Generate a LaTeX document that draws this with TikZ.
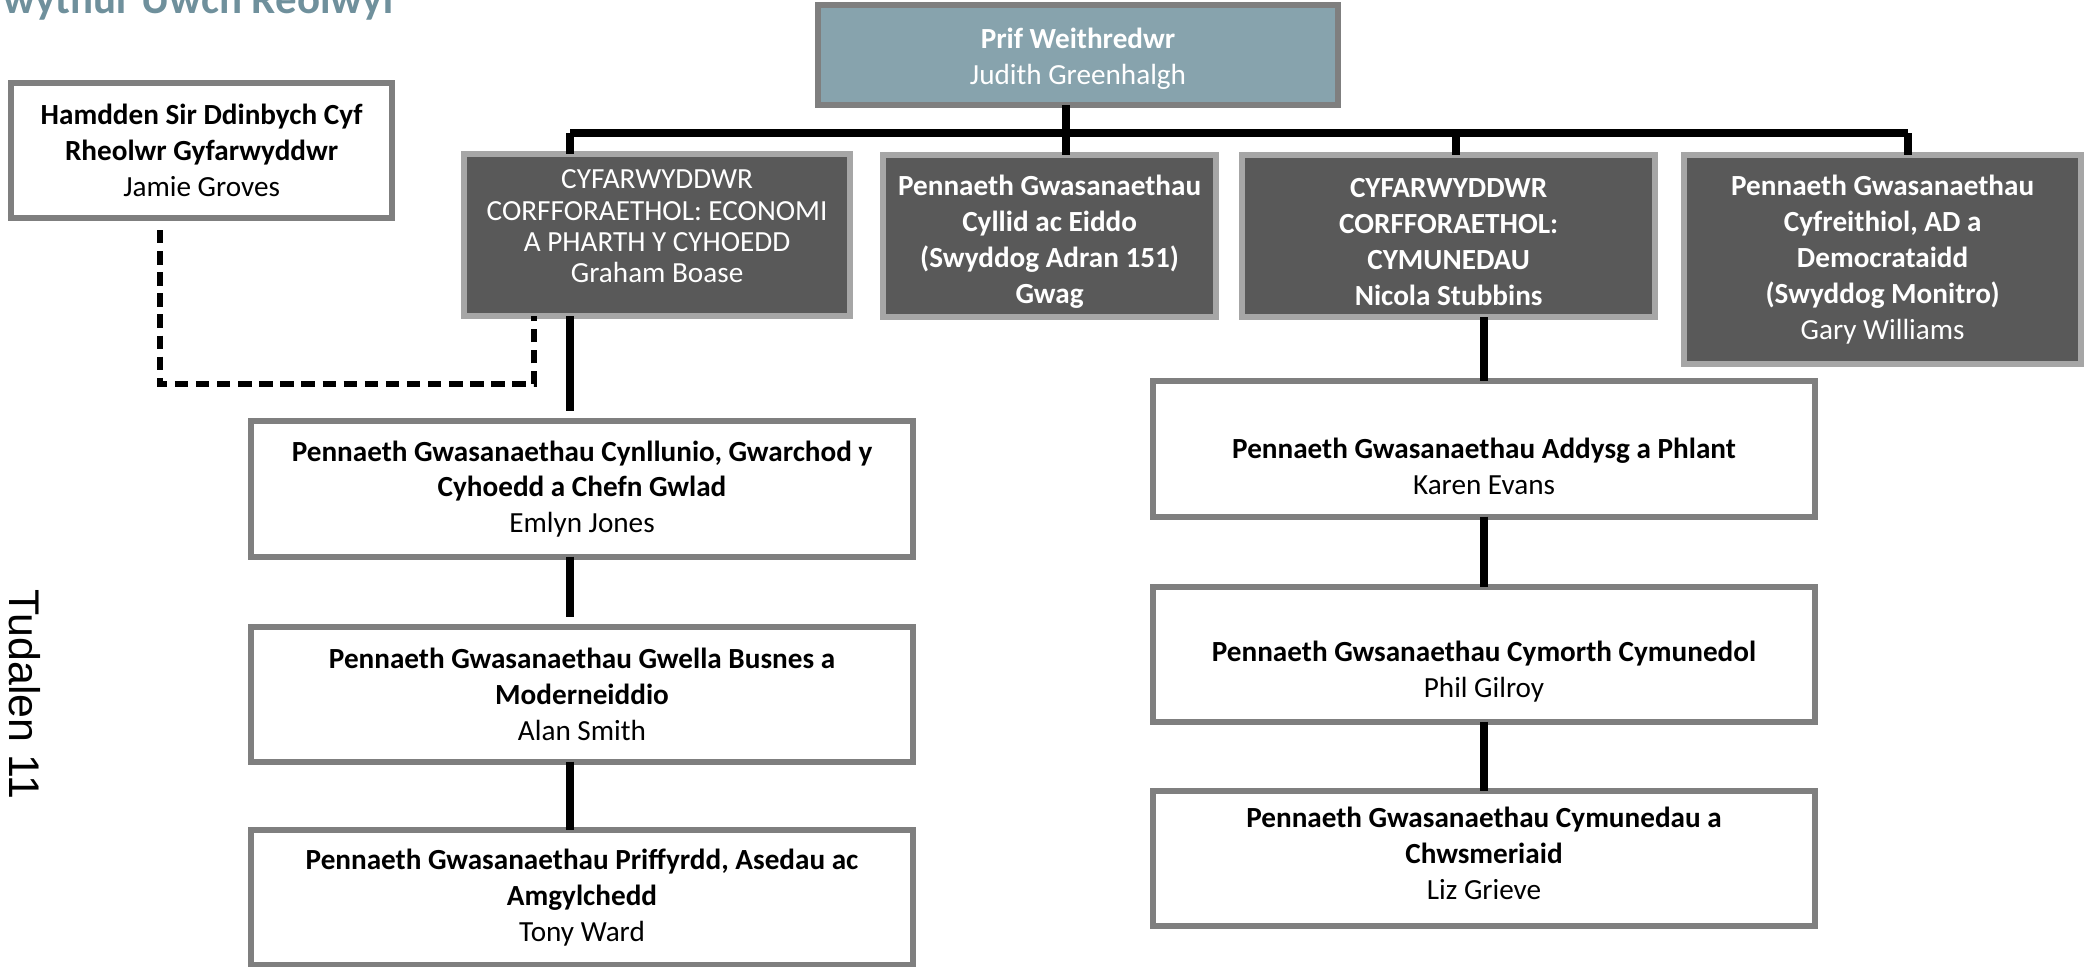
\documentclass[tikz,border=0pt]{standalone}
\usepackage{fontspec}
\setmainfont{Carlito}
\newfontfamily\pagefont{Liberation Sans}
\usetikzlibrary{positioning}

\definecolor{boxgrey}{HTML}{7F7F7F}
\definecolor{darkfill}{HTML}{595959}
\definecolor{darkedge}{HTML}{A6A6A6}
\definecolor{chieffill}{HTML}{87A3AD}
\definecolor{titleblue}{HTML}{6F909C}

\newcommand{\boxfont}{\fontsize{8.3}{10.2}\selectfont}

\begin{document}
\begin{tikzpicture}[
    x=0.01cm, y=0.01cm,
    node distance=0.7cm,
    every node/.style={font=\boxfont, align=center, inner sep=0pt, outer sep=0pt},
    whitebox/.style={draw=boxgrey, line width=1.7pt, fill=white, minimum width=6.61cm, minimum height=1.35cm},
    darkbox/.style={draw=darkedge, line width=1.7pt, fill=darkfill, text=white, minimum height=1.62cm, anchor=north west},
    link/.style={line width=2.1pt},
    dashlink/.style={line width=1.7pt, dash pattern=on 3.8pt off 2.2pt}
]
    \useasboundingbox (0,0) rectangle (2089,-966);

    \node (title) [anchor=base west, font=\bfseries\fontsize{12.2}{14}\selectfont, text=titleblue] at (3,-13) {wythur Uwch Reolwyr};
    \node (tudalen) [rotate=-90, font=\pagefont\fontsize{12.2}{14}\selectfont] at (25,-694) {Tudalen 11};

    \node (prif) [draw=boxgrey, line width=1.7pt, fill=chieffill, text=white, minimum width=5.2cm, minimum height=1cm] at (1078,-55) {\rule{0pt}{8pt}\textbf{Prif Weithredwr}\\Judith Greenhalgh};
    \node (hamdden) [whitebox, minimum width=3.81cm, anchor=north west] at (11,-83) {\textbf{Hamdden Sir Ddinbych Cyf}\\\textbf{Rheolwr Gyfarwyddwr}\\Jamie Groves};

    \node (graham) [darkbox, minimum width=3.86cm, font=\fontsize{8.3}{8.9}\selectfont] at (464,-154) {CYFARWYDDWR\\CORFFORAETHOL: ECONOMI\\A PHARTH Y CYHOEDD\\Graham Boase\rule[-5pt]{0pt}{5pt}};
    \node (cyllid) [darkbox, minimum width=3.33cm] at (883,-155) {\rule{0pt}{9pt}\textbf{Pennaeth Gwasanaethau}\\\textbf{Cyllid ac Eiddo}\\\textbf{(Swyddog Adran 151)}\\\textbf{Gwag}};
    \node (nicola) [darkbox, minimum width=4.13cm] at (1242,-155) {\rule{0pt}{9pt}\textbf{CYFARWYDDWR}\\\textbf{CORFFORAETHOL:}\\\textbf{CYMUNEDAU}\\\textbf{Nicola Stubbins}};
    \node (gary) [darkbox, minimum width=3.97cm, minimum height=2.09cm] at (1684,-155) {\textbf{Pennaeth Gwasanaethau}\\\textbf{Cyfreithiol, AD a}\\\textbf{Democrataidd}\\\textbf{(Swyddog Monitro)}\\Gary Williams};

    \node (emlyn) [whitebox] at (582,-489) {\textbf{Pennaeth Gwasanaethau Cynllunio, Gwarchod y}\\\textbf{Cyhoedd a Chefn Gwlad}\\Emlyn Jones};
    \node (alan) [whitebox, below=of emlyn] {\textbf{Pennaeth Gwasanaethau Gwella Busnes a}\\\textbf{Moderneiddio}\\Alan Smith};
    \node (tony) [whitebox, below=0.68cm of alan] {\textbf{Pennaeth Gwasanaethau Priffyrdd, Asedau ac}\\\textbf{Amgylchedd}\\Tony Ward};

    \node (karen) [whitebox] at (1484,-449) {\mbox{}\\[5.5pt]\textbf{Pennaeth Gwasanaethau Addysg a Phlant}\\Karen Evans};
    \node (phil) [whitebox, below=of karen] {\mbox{}\\[5.5pt]\textbf{Pennaeth Gwsanaethau Cymorth Cymunedol}\\Phil Gilroy};
    \node (liz) [whitebox, below=0.69cm of phil] {\textbf{Pennaeth Gwasanaethau Cymunedau a}\\\textbf{Chwsmeriaid}\\Liz Grieve\rule[-3pt]{0pt}{3pt}};

    \coordinate (gdrop) at (570,-133);
    \coordinate (pdrop) at (1066,-133);
    \coordinate (ndrop) at (1456,-133);
    \coordinate (adrop) at (1908,-133);
    \coordinate (dleft) at (160,-384);
    \coordinate (dright) at (534,-384);

    \draw [link] (gdrop) -- (adrop);
    \draw [link] (pdrop |- prif.south) -- (pdrop |- cyllid.north);
    \draw [link] (gdrop) -- (gdrop |- graham.north);
    \draw [link] (ndrop) -- (ndrop |- nicola.north);
    \draw [link] (adrop) -- (adrop |- gary.north);

    \draw [link, shorten >=1mm] (gdrop |- graham.south) -- (gdrop |- emlyn.north);
    \draw [link, shorten >=1mm] (gdrop |- emlyn.south) -- (gdrop |- alan.north);
    \draw [link] (gdrop |- alan.south) -- (gdrop |- tony.north);

    \draw [link] (karen.north |- nicola.south) -- (karen.north);
    \draw [link] (karen.south) -- (phil.north);
    \draw [link] (phil.south) -- (liz.north);

    \draw [dashlink, shorten <=1.2mm] (dleft |- hamdden.south) -- (dleft) -- (dright) -- (dright |- graham.south);
\end{tikzpicture}
\end{document}
